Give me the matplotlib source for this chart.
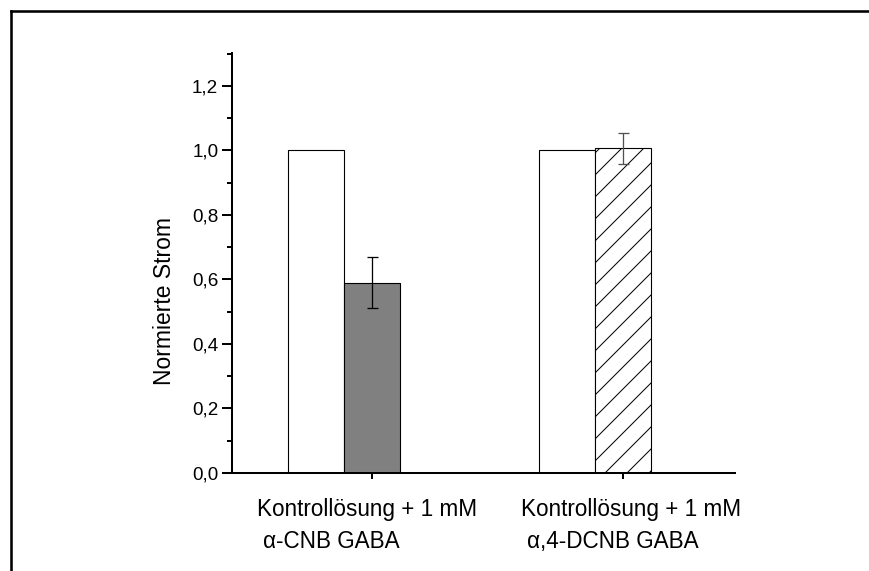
import matplotlib
matplotlib.use("Agg")
import matplotlib.pyplot as plt
from matplotlib.lines import Line2D
from matplotlib.ticker import MultipleLocator

plt.rcParams['font.family'] = ['Liberation Sans', 'DejaVu Sans']
plt.rcParams['hatch.linewidth'] = 0.55

# data
groups = [1, 2]
control_vals = [1.0, 1.0]
treat_vals = [0.59, 1.007]
treat_err = [0.08, 0.048]
treat_colors = ['#808080', 'white']
treat_hatch = ['', '//']
err_colors = ['black', '#505050']
label_line1 = ['Kontrollösung + 1 mM', 'Kontrollösung + 1 mM']
label_line2 = ['\u03b1-CNB GABA', '\u03b1,4-DCNB GABA']
label_x = [0.5416, 1.595]
label2_dx = 0.024

DPI = 132
fig = plt.figure(figsize=(869 / DPI, 571 / DPI), dpi=DPI)
ax = fig.add_axes([0.267, 0.1716, 0.5789, 0.7356])

width = 0.2227
for i, g in enumerate(groups):
    ax.bar(g - width, control_vals[i], width, align='center',
           color='white', edgecolor='black', linewidth=0.6)
    ax.bar(g, treat_vals[i], width, align='center',
           color=treat_colors[i], edgecolor='black', linewidth=0.6,
           hatch=treat_hatch[i])
    ax.errorbar(g, treat_vals[i], yerr=treat_err[i], fmt='none',
                ecolor=err_colors[i], elinewidth=0.7, capsize=3, capthick=0.7)

ax.set_xlim(0.4422, 2.446)
ax.set_ylim(0, 1.302)
ax.set_xticks(groups)
ax.set_xticklabels(['', ''])
ax.yaxis.set_major_locator(MultipleLocator(0.2))
ax.yaxis.set_minor_locator(MultipleLocator(0.1))
ax.yaxis.set_major_formatter(lambda v, p: f"{v:.1f}".replace('.', ','))

for s in ['top', 'right']:
    ax.spines[s].set_visible(False)
for s in ['left', 'bottom']:
    ax.spines[s].set_linewidth(1.1)

ax.tick_params(axis='y', which='major', direction='out', length=5.5, width=1.1,
               labelsize=10.3, pad=2)
ax.tick_params(axis='y', which='minor', direction='out', length=2.8, width=1.1)
ax.tick_params(axis='x', which='major', direction='out', length=3.2, width=1.1)

ax.set_ylabel('Normierte Strom', fontsize=12.5)
ax.yaxis.set_label_coords(-0.111, 0.41)

# two-line category labels under the bars
for i in range(len(groups)):
    ax.text(label_x[i], -0.088, label_line1[i], transform=ax.get_xaxis_transform(),
            ha='left', va='center', fontsize=12.3)
    ax.text(label_x[i] + label2_dx, -0.162, label_line2[i],
            transform=ax.get_xaxis_transform(),
            ha='left', va='center', fontsize=12.3)

# outer frame (only top and left visible in the crop)
fig.add_artist(Line2D([10.5 / 869, 10.5 / 869], [0, 1 - 11 / 571],
                      transform=fig.transFigure, color='black', linewidth=1.4))
fig.add_artist(Line2D([10.5 / 869, 1], [1 - 11 / 571, 1 - 11 / 571],
                      transform=fig.transFigure, color='black', linewidth=1.4))

fig.savefig('out.png', dpi=DPI)
